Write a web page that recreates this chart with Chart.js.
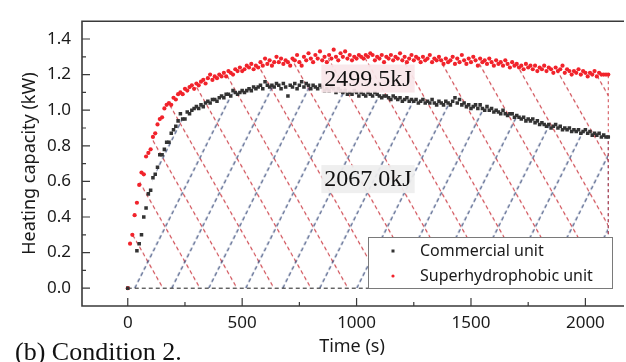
<!DOCTYPE html>
<html lang="en">
<head>
<meta charset="UTF-8">
<title>Heating capacity - Condition 2</title>
<style>
  body { margin: 0; background: #fff; }
  #wrap { width: 626px; height: 362px; }
</style>
<script src="https://cdn.jsdelivr.net/npm/chart.js"></script>
</head>
<body>
<div id="wrap"><canvas id="heatChart" width="626" height="362"></canvas></div>
<script>
// logger interval (s), first sample at t = 0
const timeStep = 10;

// Commercial unit, kW (one value per 10 s, 0 .. 2100 s)
const commercialValues = [
  0, null, null, null, 0.21, 0.25, 0.30, 0.40, 0.45, 0.53,
  0.55, 0.62, 0.64, 0.68, 0.75, 0.75, 0.78, 0.82, 0.82, 0.87,
  0.89, 0.91, 0.94, 0.98, 0.95, 0.95, 0.99, 0.98, 1.00, 1.01,
  1.02, 1.01, 1.03, 1.02, 1.04, 1.05, 1.04, 1.06, 1.06, 1.05,
  1.07, 1.08, 1.07, 1.09, 1.09, 1.08, 1.11, 1.10, 1.09, 1.10,
  1.11, 1.10, 1.11, 1.12, 1.11, 1.13, 1.12, 1.13, 1.14, 1.12,
  1.16, 1.14, 1.13, 1.14, 1.13, 1.15, 1.14, 1.12, 1.15, 1.13,
  1.08, 1.14, 1.13, 1.15, 1.12, 1.14, 1.16, 1.13, 1.15, 1.14,
  1.12, 1.14, 1.13, 1.12, 1.14, 1.13, 1.11, 1.12, 1.11, 1.13,
  1.12, 1.10, 1.12, 1.11, 1.10, 1.11, 1.09, 1.10, 1.09, 1.11,
  1.10, 1.08, 1.10, 1.09, 1.08, 1.10, 1.09, 1.08, 1.10, 1.09,
  1.08, 1.07, 1.08, 1.08, 1.07, 1.06, 1.08, 1.07, 1.06, 1.07,
  1.05, 1.06, 1.07, 1.05, 1.06, 1.05, 1.06, 1.04, 1.05, 1.06,
  1.04, 1.05, 1.04, 1.06, 1.04, 1.03, 1.05, 1.04, 1.03, 1.05,
  1.04, 1.03, 1.05, 1.07, 1.04, 1.06, 1.03, 1.04, 1.02, 1.03,
  1.01, 1.02, 1.03, 1.01, 1.03, 1.01, 1.00, 1.02, 1.00, 1.01,
  0.99, 1.00, 0.99, 0.98, 1.00, 0.98, 0.97, 0.98, 0.98, 0.96,
  0.97, 0.96, 0.95, 0.96, 0.94, 0.95, 0.94, 0.95, 0.93, 0.94,
  0.92, 0.93, 0.92, 0.91, 0.92, 0.90, 0.91, 0.92, 0.90, 0.91,
  0.89, 0.90, 0.89, 0.90, 0.88, 0.89, 0.88, 0.89, 0.87, 0.88,
  0.89, 0.87, 0.88, 0.86, 0.87, 0.86, 0.87, 0.85, 0.86, 0.85,
  0.85
];

// Superhydrophobic unit, kW
const superValues = [
  0, 0.25, 0.30, 0.41, 0.48, 0.58, 0.65, 0.64, 0.74, 0.76,
  0.78, 0.85, 0.87, 0.92, 0.95, 0.96, 1.01, 1.03, 1.04, 1.03,
  1.07, 1.06, 1.09, 1.10, 1.09, 1.12, 1.11, 1.13, 1.14, 1.12,
  1.15, 1.14, 1.16, 1.17, 1.15, 1.18, 1.20, 1.17, 1.19, 1.18,
  1.20, 1.19, 1.21, 1.19, 1.22, 1.21, 1.20, 1.23, 1.22, 1.24,
  1.22, 1.23, 1.25, 1.24, 1.26, 1.23, 1.25, 1.24, 1.27, 1.25,
  1.29, 1.26, 1.28, 1.25, 1.27, 1.30, 1.27, 1.29, 1.26, 1.28,
  1.27, 1.25, 1.29, 1.28, 1.31, 1.27, 1.25, 1.30, 1.28, 1.32,
  1.29, 1.27, 1.31, 1.29, 1.33, 1.28, 1.30, 1.27, 1.31, 1.29,
  1.34, 1.30, 1.28, 1.32, 1.30, 1.33, 1.29, 1.31, 1.28, 1.30,
  1.29, 1.31, 1.30, 1.29, 1.31, 1.30, 1.32, 1.31, 1.28, 1.30,
  1.29, 1.31, 1.27, 1.30, 1.29, 1.31, 1.28, 1.30, 1.29, 1.32,
  1.28, 1.30, 1.27, 1.29, 1.31, 1.28, 1.30, 1.29, 1.27, 1.30,
  1.28, 1.29, 1.31, 1.27, 1.29, 1.28, 1.30, 1.28, 1.26, 1.29,
  1.27, 1.28, 1.30, 1.26, 1.29, 1.27, 1.31, 1.28, 1.26, 1.29,
  1.27, 1.30, 1.28, 1.25, 1.29, 1.27, 1.28, 1.26, 1.29, 1.27,
  1.25, 1.28, 1.26, 1.27, 1.25, 1.28, 1.26, 1.24, 1.27, 1.25,
  1.26, 1.24, 1.25, 1.23, 1.26, 1.24, 1.25, 1.23, 1.25, 1.22,
  1.24, 1.23, 1.25, 1.22, 1.24, 1.23, 1.21, 1.24, 1.22, 1.23,
  1.25, 1.21, 1.23, 1.22, 1.20, 1.22, 1.21, 1.23, 1.20, 1.22,
  1.21, 1.19, 1.21, 1.20, 1.22, 1.19, 1.21, 1.20, 1.20, 1.20,
  1.20
];

const seriesLabels = ['Commercial unit', 'Superhydrophobic unit'];
const energyLabels = ['2499.5kJ', '2067.0kJ'];
const xTicks = [0, 500, 1000, 1500, 2000];
const yTicks = [0, 0.2, 0.4, 0.6, 0.8, 1.0, 1.2, 1.4];

const toPoints = vals => vals.map((v, i) => ({ x: i * timeStep, y: v }));
const commercialPts = toPoints(commercialValues);
const superPts = toPoints(superValues);
const lastT = (superValues.length - 1) * timeStep;

const RED = '#f1232b';
const DARK = '#333333';
const HATCH_RED = '#cf4850';
const HATCH_BLUE = '#2f4274';
const sans = '"Noto Sans", "Open Sans", sans-serif';
const serif = '"Liberation Serif", "Times New Roman", serif';

// dashed diagonal hatching used as the area fill
const patterns = {};
function hatch(chart, color, slope, rising, anchorT) {
  if (!chart.chartArea || !chart.scales.y) return 'transparent';
  const y0 = chart.scales.y.getPixelForValue(0);
  const x0 = chart.scales.x.getPixelForValue(anchorT);
  const key = color + rising + x0.toFixed(1) + y0.toFixed(1);
  if (patterns[key]) return patterns[key];
  const s = 37, h = Math.round(s * slope);
  const tile = document.createElement('canvas');
  tile.width = s; tile.height = h;
  const c = tile.getContext('2d');
  const len = Math.hypot(s, h);
  const per = len / Math.round(len / 7);
  c.strokeStyle = color;
  c.lineWidth = 1.15;
  c.setLineDash([per * 0.58, per * 0.42]);
  for (const off of [-s, 0, s]) {
    c.beginPath();
    if (rising) { c.moveTo(off, h); c.lineTo(off + s, 0); }
    else { c.moveTo(off, 0); c.lineTo(off + s, h); }
    c.stroke();
  }
  const p = chart.ctx.createPattern(tile, 'repeat');
  p.setTransform(new DOMMatrix().translate(x0, y0));
  patterns[key] = p;
  return p;
}

// frame with inward ticks, energy labels, legend and caption
const extras = {
  id: 'extras',
  afterDatasetsDraw(chart) {
    const { ctx, chartArea: a, scales: { x, y } } = chart;
    ctx.save();

    // energy labels
    ctx.font = '24px ' + serif;
    ctx.textAlign = 'center';
    ctx.textBaseline = 'middle';
    const notes = [
      { text: energyLabels[0], t: 1050, v: 1.178, bg: 'rgba(249,230,234,0.93)' },
      { text: energyLabels[1], t: 1050, v: 0.613, bg: 'rgba(238,238,238,0.93)' }
    ];
    notes.forEach(n => {
      const px = x.getPixelForValue(n.t), py = y.getPixelForValue(n.v);
      const w = ctx.measureText(n.text).width + 6;
      ctx.fillStyle = n.bg;
      ctx.fillRect(px - w / 2, py - 14, w, 28);
      ctx.fillStyle = '#111';
      ctx.fillText(n.text, px, py + 1);
    });

    // legend
    const lx = 368, ly = 237, lw = 244, lh = 51;
    ctx.fillStyle = '#fff';
    ctx.fillRect(lx, ly, lw, lh);
    ctx.strokeStyle = '#7a7a7a';
    ctx.lineWidth = 1;
    ctx.strokeRect(lx + 0.5, ly + 0.5, lw, lh);
    ctx.font = '16px ' + sans;
    ctx.textAlign = 'left';
    ctx.fillStyle = DARK;
    ctx.fillRect(391.5, 249.5, 3, 3);
    ctx.fillStyle = RED;
    ctx.beginPath(); ctx.arc(393, 276, 1.6, 0, Math.PI * 2); ctx.fill();
    ctx.fillStyle = '#1a1a1a';
    ctx.fillText(seriesLabels[0], 420, 251);
    ctx.fillText(seriesLabels[1], 420, 276);

    // axes frame (right side falls outside the picture)
    ctx.strokeStyle = '#3a3a3a';
    ctx.lineWidth = 1.6;
    ctx.beginPath();
    ctx.moveTo(a.right + 2, a.top); ctx.lineTo(a.left, a.top);
    ctx.lineTo(a.left, a.bottom); ctx.lineTo(a.right + 2, a.bottom);
    ctx.stroke();

    ctx.lineWidth = 1.2;
    ctx.beginPath();
    yTicks.forEach(v => {
      const p = y.getPixelForValue(v);
      ctx.moveTo(a.left, p); ctx.lineTo(a.left + 8, p);
      const m = y.getPixelForValue(v + 0.1);
      if (m > a.top + 2) { ctx.moveTo(a.left, m); ctx.lineTo(a.left + 4, m); }
    });
    xTicks.forEach(v => {
      const p = x.getPixelForValue(v);
      ctx.moveTo(p, a.bottom); ctx.lineTo(p, a.bottom - 8);
      const m = x.getPixelForValue(v + 250);
      if (m < a.right - 2) { ctx.moveTo(m, a.bottom); ctx.lineTo(m, a.bottom - 4); }
    });
    ctx.stroke();

    // caption
    ctx.font = '26px ' + serif;
    ctx.fillStyle = '#111';
    ctx.textBaseline = 'alphabetic';
    ctx.fillText('(b) Condition 2.', 15, 360);
    ctx.restore();
  }
};

const edge = (data, color, dash) => ({
  type: 'line', data, borderColor: color, borderWidth: 1, borderDash: dash,
  pointRadius: 0, fill: false, order: 1
});

new Chart(document.getElementById('heatChart'), {
  type: 'scatter',
  data: {
    datasets: [
      {
        label: seriesLabels[0], data: commercialPts, pointStyle: 'rect',
        pointRadius: 2.5, borderWidth: 0, backgroundColor: DARK, order: 0
      },
      {
        label: seriesLabels[1], data: superPts, pointStyle: 'circle',
        pointRadius: 2.1, borderWidth: 0, backgroundColor: RED, order: 0
      },
      {
        type: 'line', data: superPts, pointRadius: 0, borderWidth: 0, spanGaps: true,
        fill: 'origin', order: 3,
        backgroundColor: ctx => hatch(ctx.chart, HATCH_RED, 1.75, false, 154)
      },
      {
        type: 'line', data: commercialPts, pointRadius: 0, borderWidth: 0, spanGaps: true,
        fill: 'origin', order: 2,
        backgroundColor: ctx => hatch(ctx.chart, HATCH_BLUE, 2.0, true, 30)
      },
      edge([{ x: 0, y: 0 }, { x: lastT, y: 0 }], '#1e1e1e', [4, 3]),
      edge([{ x: lastT, y: 0 }, { x: lastT, y: superValues[superValues.length - 1] }], HATCH_RED, [3, 3]),
      edge([{ x: lastT, y: 0 }, { x: lastT, y: commercialValues[commercialValues.length - 1] }], HATCH_BLUE, [3, 3])
    ]
  },
  options: {
    responsive: false,
    animation: false,
    layout: { padding: { top: 4, right: 0, bottom: 0, left: 0 } },
    plugins: { legend: { display: false }, tooltip: { enabled: false } },
    scales: {
      x: {
        type: 'linear', min: -200, max: 2160,
        afterBuildTicks: s => { s.ticks = xTicks.map(v => ({ value: v })); },
        afterFit: s => { s.height = 56; },
        grid: { display: false, drawTicks: false },
        border: { display: false },
        ticks: { padding: 7, color: '#1a1a1a', font: { family: sans, size: 17 }, callback: v => String(v), maxRotation: 0 },
        title: { display: true, text: 'Time (s)', color: '#1a1a1a', font: { family: sans, size: 18 }, padding: { top: 0, bottom: 4 } }
      },
      y: {
        min: -0.1, max: 1.5,
        afterBuildTicks: s => { s.ticks = yTicks.map(v => ({ value: v })); },
        afterFit: s => { s.width = 82; },
        grid: { display: false, drawTicks: false },
        border: { display: false },
        ticks: { padding: 11, color: '#1a1a1a', font: { family: sans, size: 17 }, callback: v => v.toFixed(1) },
        title: { display: true, text: 'Heating capacity (kW)', color: '#1a1a1a', font: { family: sans, size: 18 }, padding: { top: 19, bottom: 0 } }
      }
    }
  },
  plugins: [extras]
});
</script>
</body>
</html>
